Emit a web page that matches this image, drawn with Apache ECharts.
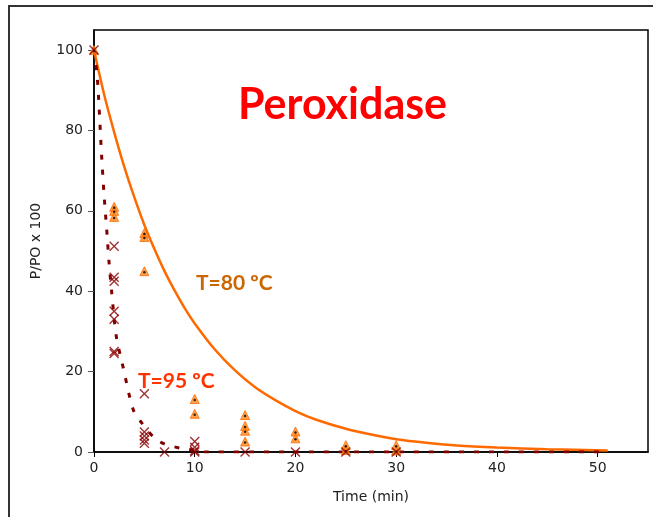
<!DOCTYPE html>
<html><head><meta charset="utf-8">
<script src="https://cdn.jsdelivr.net/npm/echarts@6/dist/echarts.min.js"></script>
<style>html,body{margin:0;padding:0;background:#fff}#c{width:653px;height:517px}</style>
</head><body><div id="c"></div>
<script>
// Fitted curve T=80 ºC (time, P/P0*100)
const curve80 = [[0,100],[1,89],[2,79.6],[3,71],[4,63.4],[5,56.5],[6,50.5],[7,45],[8,40.2],[9,35.8],[10,32],[12,25.5],[14,20.3],[16,16.1],[18,12.9],[20,10.2],[22,8.1],[25,5.8],[28,4.1],[30,3.2],[33,2.3],[36,1.6],[40,1.1],[45,0.7],[51,0.4]];
// Fitted curve T=95 ºC
const curve95 = [[0,100],[0.3,94],[0.5,86],[0.75,74],[1,64],[1.3,54],[1.5,47],[1.75,40],[2.2,29],[2.9,21],[3.9,10.5],[4.75,7.2],[6,3.5],[7,2],[8.5,1],[10,0.4],[11,0],[20,0],[30,0],[40,0],[51,0]];
// Measured points T=80 ºC
const pts80 = [[0,100],[2,61],[2,60],[2,58.5],[5,54.5],[5,53.5],[5,45],[10,13.2],[10,9.5],[15,9.2],[15,6.5],[15,5.3],[15,2.6],[20,5.1],[20,3.4],[25,1.7],[25,0.5],[30,1.7],[30,0.4]];
// Measured points T=95 ºC
const pts95 = [[0,100],[2,51.2],[2,43.5],[2,42.5],[2,35],[2,33],[2,25],[2,24.5],[5,14.5],[5,5],[5,4],[5,3],[5,2.2],[7,0],[10,2.6],[10,1.2],[10,0.3],[10,0],[15,0],[20,0],[25,0],[30,0]];
const xTicks = [0,10,20,30,40,50];
const yTicks = [0,20,40,60,80,100];

const X = 'path://M0,1 L1,0 L5,4 L9,0 L10,1 L6,5 L10,9 L9,10 L5,6 L1,10 L0,9 L4,5 Z';
const chart = echarts.init(document.getElementById('c'));
const font = 'Verdana, "DejaVu Sans", sans-serif';
const bold = 'Lato, "Open Sans", sans-serif';
chart.setOption({
  animation: false,
  grid: {left: 94, top: 30, right: 5, bottom: 65, show: true, borderColor: '#000', borderWidth: 1.5, backgroundColor: '#fff'},
  xAxis: {type: 'value', min: 0, max: 55, interval: 10,
    name: 'Time (min)', nameLocation: 'middle', nameGap: 38,
    nameTextStyle: {fontFamily: font, fontSize: 14, color: '#222'},
    axisLine: {show: true, onZero: false, lineStyle: {color: '#000', width: 1.5}},
    axisTick: {show: true, inside: false, length: 5, customValues: xTicks, lineStyle: {color: '#000'}},
    axisLabel: {customValues: xTicks, fontFamily: font, fontSize: 14, color: '#222', margin: 9},
    splitLine: {show: false}},
  yAxis: {type: 'value', min: 0, max: 105, interval: 20,
    name: 'P/PO x 100', nameLocation: 'middle', nameGap: 51, nameRotate: 90,
    nameTextStyle: {fontFamily: font, fontSize: 14, color: '#222'},
    axisLine: {show: true, lineStyle: {color: '#000', width: 1.5}},
    axisTick: {show: true, inside: false, length: 6, customValues: yTicks, lineStyle: {color: '#555'}},
    axisLabel: {customValues: yTicks, fontFamily: font, fontSize: 14, color: '#222', margin: 11},
    splitLine: {show: false}},
  graphic: [
    {type: 'rect', shape: {x: 9, y: 6, width: 700, height: 600}, style: {fill: 'none', stroke: '#333', lineWidth: 2}, z: -10},
    {type: 'text', x: 342.5, y: 84, style: {text: 'Peroxidase', fill: '#ff0000', font: 'bold 43px ' + bold, textAlign: 'center'}, z: 100},
    {type: 'text', x: 196, y: 273, style: {text: 'T=80 ºC', fill: '#cc6600', font: 'bold 21px ' + bold}, z: 100},
    {type: 'text', x: 138, y: 371, style: {text: 'T=95 ºC', fill: '#ff3300', font: 'bold 21px ' + bold}, z: 100}
  ],
  series: [
    {type: 'line', data: curve80, showSymbol: false, smooth: 0.3, lineStyle: {color: '#ff6a00', width: 2.5}, z: 2},
    {type: 'line', data: curve95, showSymbol: false, smooth: 0.3, lineStyle: {color: '#800000', width: 3, type: [5, 10]}, z: 3},
    {type: 'scatter', data: pts80, symbol: 'triangle', symbolSize: 9, itemStyle: {color: '#ff8a1a', borderColor: '#ff6a00', borderWidth: 1}, z: 4},
    {type: 'scatter', data: pts80, symbol: 'circle', symbolSize: 2.5, symbolOffset: [0, 1], itemStyle: {color: '#000'}, z: 5},
    {type: 'scatter', data: pts95, symbol: X, symbolSize: 10, itemStyle: {color: '#8b0000'}, z: 6}
  ]
});
</script></body></html>
